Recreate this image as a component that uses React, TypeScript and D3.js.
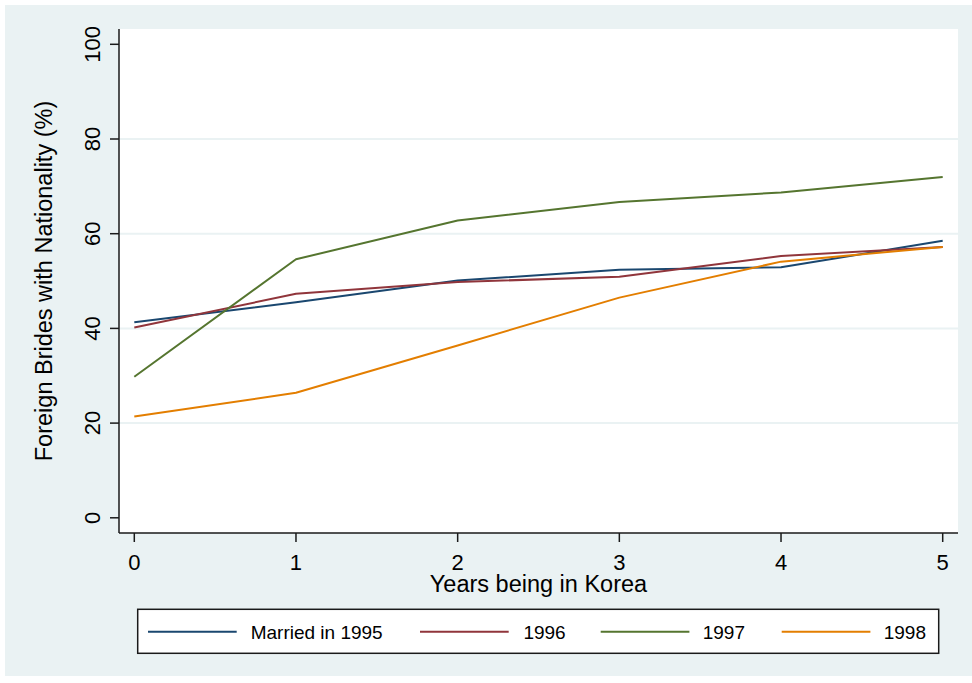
import { useEffect, useRef } from "react";
import * as d3 from "d3";

const years = [0, 1, 2, 3, 4, 5];
const married1995 = [41.3, 45.5, 50.1, 52.4, 52.9, 58.5];
const married1996 = [40.2, 47.3, 49.8, 50.9, 55.3, 57.2];
const married1997 = [29.8, 54.6, 62.8, 66.7, 68.7, 72.0];
const married1998 = [21.4, 26.4, 36.4, 46.5, 54.1, 57.2];
const seriesNames = ["Married in 1995", "1996", "1997", "1998"];
const seriesColors = ["#1a476f", "#90353b", "#55752f", "#e37e00"];
const yTicks = [0, 20, 40, 60, 80, 100];
const yGrid = [20, 40, 60, 80];

const W = 972;
const H = 683;
const FONT = "'Liberation Sans', Arial, Helvetica, sans-serif";

export default function App() {
  const svgRef = useRef<SVGSVGElement>(null);

  useEffect(() => {
    if (!svgRef.current) return;
    const svg = d3.select(svgRef.current);
    svg.selectAll("*").remove();

    const plot = { left: 119, right: 958, top: 29, bottom: 533 };

    const x = d3.scaleLinear().domain([0, 5]).range([134.3, 942.7]);
    const y = d3.scaleLinear().domain([0, 100]).range([517.8, 44.3]);

    // outer background
    svg
      .append("rect")
      .attr("x", 5)
      .attr("y", 5)
      .attr("width", W - 5)
      .attr("height", 671)
      .attr("fill", "#eaf2f3");

    // plot region
    svg
      .append("rect")
      .attr("x", plot.left)
      .attr("y", plot.top)
      .attr("width", plot.right - plot.left)
      .attr("height", plot.bottom - plot.top)
      .attr("fill", "#ffffff");

    // gridlines
    svg
      .append("g")
      .selectAll("line")
      .data(yGrid)
      .enter()
      .append("line")
      .attr("x1", plot.left)
      .attr("x2", plot.right)
      .attr("y1", (d) => y(d))
      .attr("y2", (d) => y(d))
      .attr("stroke", "#eaf2f3")
      .attr("stroke-width", 2);

    // series lines
    const allSeries = [married1995, married1996, married1997, married1998];
    const line = d3
      .line<number>()
      .x((_, i) => x(years[i]))
      .y((d) => y(d));

    allSeries.forEach((s, i) => {
      svg
        .append("path")
        .datum(s)
        .attr("fill", "none")
        .attr("stroke", seriesColors[i])
        .attr("stroke-width", 2)
        .attr("stroke-linejoin", "round")
        .attr("d", line);
    });

    // axes lines
    svg
      .append("line")
      .attr("x1", plot.left)
      .attr("x2", plot.left)
      .attr("y1", plot.top)
      .attr("y2", plot.bottom)
      .attr("stroke", "#1a1a1a")
      .attr("stroke-width", 1.5);
    svg
      .append("line")
      .attr("x1", plot.left)
      .attr("x2", plot.right)
      .attr("y1", plot.bottom)
      .attr("y2", plot.bottom)
      .attr("stroke", "#1a1a1a")
      .attr("stroke-width", 1.5);

    // y ticks + labels
    const yAx = svg.append("g");
    yAx
      .selectAll("line")
      .data(yTicks)
      .enter()
      .append("line")
      .attr("x1", 110)
      .attr("x2", plot.left)
      .attr("y1", (d) => y(d))
      .attr("y2", (d) => y(d))
      .attr("stroke", "#1a1a1a")
      .attr("stroke-width", 1.5);
    yAx
      .selectAll("text")
      .data(yTicks)
      .enter()
      .append("text")
      .attr("transform", (d) => `translate(100,${y(d)}) rotate(-90)`)
      .attr("text-anchor", "middle")
      .style("font-family", FONT)
      .style("font-size", "22px")
      .style("fill", "#000")
      .text((d) => d);

    // x ticks + labels
    const xAx = svg.append("g");
    xAx
      .selectAll("line")
      .data(years)
      .enter()
      .append("line")
      .attr("x1", (d) => x(d))
      .attr("x2", (d) => x(d))
      .attr("y1", plot.bottom)
      .attr("y2", 542)
      .attr("stroke", "#1a1a1a")
      .attr("stroke-width", 1.5);
    xAx
      .selectAll("text")
      .data(years)
      .enter()
      .append("text")
      .attr("x", (d) => x(d))
      .attr("y", 569.5)
      .attr("text-anchor", "middle")
      .style("font-family", FONT)
      .style("font-size", "22px")
      .style("fill", "#000")
      .text((d) => d);

    // axis titles
    svg
      .append("text")
      .attr("x", (plot.left + plot.right) / 2)
      .attr("y", 592)
      .attr("text-anchor", "middle")
      .style("font-family", FONT)
      .style("font-size", "23.5px")
      .style("fill", "#000")
      .text("Years being in Korea");

    svg
      .append("text")
      .attr(
        "transform",
        `translate(52,${(plot.top + plot.bottom) / 2}) rotate(-90)`
      )
      .attr("text-anchor", "middle")
      .style("font-family", FONT)
      .style("font-size", "23.5px")
      .style("fill", "#000")
      .text("Foreign Brides with Nationality (%)");

    // legend
    const legend = svg.append("g");
    legend
      .append("rect")
      .attr("x", 137.7)
      .attr("y", 609.3)
      .attr("width", 801)
      .attr("height", 44)
      .attr("fill", "#ffffff")
      .attr("stroke", "#1a1a1a")
      .attr("stroke-width", 1.5);

    const lineStarts = [148, 420, 600.7, 781.7];
    const textEnds = [382.7, 565.7, 745, 926];
    seriesNames.forEach((name, i) => {
      legend
        .append("line")
        .attr("x1", lineStarts[i])
        .attr("x2", lineStarts[i] + 88.7)
        .attr("y1", 631.7)
        .attr("y2", 631.7)
        .attr("stroke", seriesColors[i])
        .attr("stroke-width", 2);
      legend
        .append("text")
        .attr("x", textEnds[i])
        .attr("y", 639)
        .attr("text-anchor", "end")
        .style("font-family", FONT)
        .style("font-size", "19px")
        .style("fill", "#000")
        .text(name);
    });
  }, []);

  return (
    <svg
      ref={svgRef}
      width={W}
      height={H}
      style={{ position: "absolute", left: 0, top: 0, background: "#ffffff" }}
    />
  );
}
